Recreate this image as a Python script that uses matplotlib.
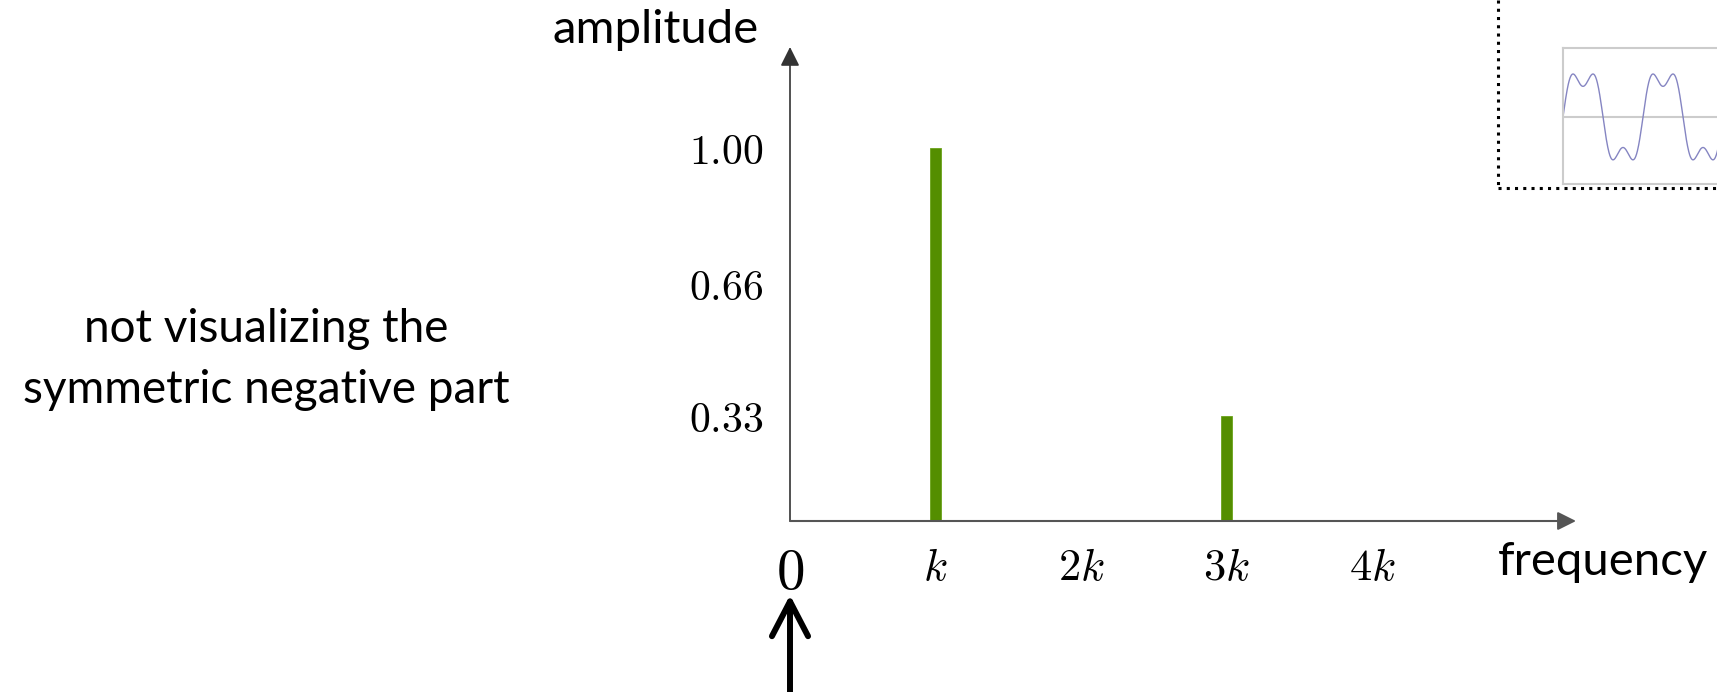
import numpy as np
import matplotlib
matplotlib.use("Agg")
import matplotlib.pyplot as plt
from matplotlib.lines import Line2D

plt.rcParams['mathtext.fontset'] = 'cm'

# spectrum data
freq_mult = [1, 3]            # multiples of k
amplitude = [1.00, 0.33]
xtick_vals = [0, 1, 2, 3, 4]
xtick_labels = [r'$0$', r'$k$', r'$2k$', r'$3k$', r'$4k$']
ytick_vals = [0.33, 0.66, 1.00]
ytick_labels = [r'$0.33$', r'$0.66$', r'$1.00$']

W, H = 1717, 692
fig = plt.figure(figsize=(W / 100, H / 100), dpi=100)

def fx(px):
    return px / W

def fy(py):
    return (H - py) / H

# main axes (pixel layout of the reference)
ax = fig.add_axes([fx(790), fy(521), fx(1576 - 790), (521 - 47) / H])
ax.set_xlim(0, 5.40)
ax.set_ylim(0.0675, 1.2525)
for s in ax.spines.values():
    s.set_visible(False)

ax.bar(freq_mult, amplitude, width=0.075, color='#548e00', edgecolor='#6aa31a', linewidth=0.6)

ax.set_yticks(ytick_vals)
ax.set_yticklabels(ytick_labels, fontsize=30)
ax.tick_params(axis='y', length=0, pad=19)

ax.set_xticks(xtick_vals)
ax.set_xticklabels(xtick_labels, fontsize=32)
ax.tick_params(axis='x', length=0, pad=18)
ax.get_xticklabels()[0].set_fontsize(41)

# axis arrows
ax.annotate('', xy=(0, 1), xytext=(0, 0), xycoords='axes fraction', textcoords='axes fraction',
            arrowprops=dict(arrowstyle='-|>,head_length=0.4,head_width=0.2', mutation_scale=29,
                            color='#333333', lw=1.2, shrinkA=0, shrinkB=0))
ax.annotate('', xy=(1, 0), xytext=(0, 0), xycoords='axes fraction', textcoords='axes fraction',
            arrowprops=dict(arrowstyle='-|>,head_length=0.4,head_width=0.2', mutation_scale=28,
                            color='#555555', lw=1.5, shrinkA=0, shrinkB=0))

# big arrow under the zero
ax.annotate('', xy=(0, fy(595)), xytext=(0, -0.02), xycoords=('data', 'figure fraction'),
            textcoords=('data', 'figure fraction'),
            arrowprops=dict(arrowstyle='->,head_length=1.0,head_width=0.52', mutation_scale=25,
                            color='black', lw=4.3, shrinkA=0, shrinkB=0), annotation_clip=False)

txt = dict(family='Lato', weight='normal', color='black')
fig.text(fx(656), fy(43), 'amplitude', ha='center', va='baseline', fontsize=34, **txt)
fig.text(fx(1498), fy(575), 'frequency', ha='left', va='baseline', fontsize=34, **txt)
fig.text(fx(266), fy(342), 'not visualizing the', ha='center', va='baseline', fontsize=33, **txt)
fig.text(fx(266), fy(403), 'symmetric negative part', ha='center', va='baseline', fontsize=33, **txt)

# inset: the signal built from the spectrum
inset = fig.add_axes([fx(1563), fy(184), fx(1800 - 1563), (184 - 48) / H])
t = np.linspace(0, 237 / 80 * 2 * np.pi, 800)
sig = np.zeros_like(t)
for f, a in zip(freq_mult, amplitude):
    sig += a * np.sin(f * t)
inset.plot(t, sig, color='#8585c2', lw=1.0)
inset.axhline(0, color='#cccccc', lw=1.5, zorder=0)
inset.set_xlim(t[0], t[-1])
inset.set_ylim(-1.47, 1.51)
inset.set_xticks([])
inset.set_yticks([])
for s in inset.spines.values():
    s.set_color('#cccccc')
    s.set_linewidth(1.5)

# dotted frame around the inset
dot = dict(color='black', lw=2.2, linestyle=(0, (1, 1.7)), dash_capstyle='butt',
           transform=fig.transFigure)
fig.add_artist(Line2D([fx(1498), fx(1498)], [fy(0), fy(188)], **dot))
fig.add_artist(Line2D([fx(1498), fx(1717)], [fy(188), fy(188)], **dot))

fig.savefig('out.png', dpi=100)
